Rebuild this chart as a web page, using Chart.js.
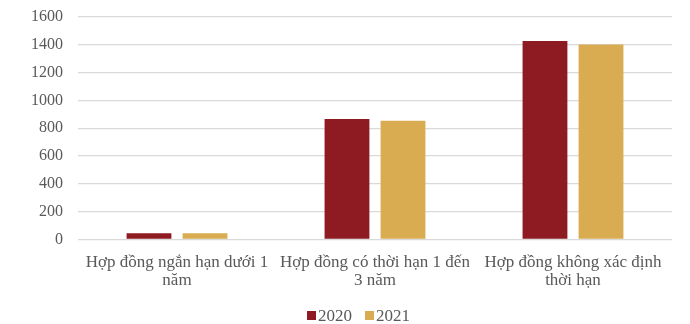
<!DOCTYPE html>
<html>
<head>
<meta charset="utf-8">
<script src="https://cdn.jsdelivr.net/npm/chart.js@4/dist/chart.umd.min.js"></script>
<style>
  html, body { margin: 0; padding: 0; background: #fff; }
  #wrap { position: relative; width: 690px; height: 324px; }
  #legend {
    position: absolute; top: 307px; left: 307px;
    display: flex; gap: 13px;
    font-family: 'Liberation Serif', 'Times New Roman', serif;
    font-size: 17px; line-height: 17px; color: #595959;
  }
  #legend .item { display: flex; align-items: center; gap: 2px; }
  #legend .box { width: 9px; height: 9px; }
</style>
</head>
<body>
<div id="wrap">
  <canvas id="contractChart"></canvas>
  <div id="legend"></div>
</div>
<script>
// Loại hợp đồng (nhãn trục x, tách dòng)
const categories = [
  ["Hợp đồng ngắn hạn dưới 1", "năm"],
  ["Hợp đồng có thời hạn 1 đến", "3 năm"],
  ["Hợp đồng không xác định", "thời hạn"]
];
const values2020 = [43, 865, 1428];
const values2021 = [43, 853, 1402];
const yTicks = [0, 200, 400, 600, 800, 1000, 1200, 1400, 1600];

const textGray = '#595959';
const serif = "'Liberation Serif', 'Times New Roman', serif";

const ctx = document.getElementById('contractChart');
const chart = new Chart(ctx, {
  type: 'bar',
  data: {
    labels: categories,
    datasets: [
      { label: '2020', data: values2020, backgroundColor: '#8E1B22' },
      { label: '2021', data: values2021, backgroundColor: '#D9AC52' }
    ]
  },
  options: {
    responsive: true,
    maintainAspectRatio: false,
    animation: false,
    layout: { padding: { top: 17, right: 18, left: 16, bottom: 29 } },
    datasets: {
      bar: { categoryPercentage: 0.566, barPercentage: 0.8 }
    },
    scales: {
      x: {
        grid: { display: false },
        border: { display: false },
        ticks: {
          color: textGray,
          font: { family: serif, size: 17, lineHeight: 1.05 },
          maxRotation: 0,
          padding: 6
        }
      },
      y: {
        min: 0,
        max: 1600,
        afterBuildTicks: axis => { axis.ticks = yTicks.map(v => ({ value: v })); },
        // the top label may overhang the plot; layout padding sets the gap
        afterFit: axis => { axis.paddingTop = 0; axis.paddingBottom = 0; },
        grid: { color: '#D9D9D9', lineWidth: 1.3, drawTicks: false },
        border: { display: false },
        ticks: {
          color: textGray,
          font: { family: serif, size: 16 },
          padding: 15,
          callback: v => String(v)
        }
      }
    },
    plugins: {
      legend: { display: false },
      tooltip: { enabled: false }
    }
  }
});

// legend as html, tighter box-to-text gap than the built-in one
const legendEl = document.getElementById('legend');
chart.data.datasets.forEach(ds => {
  const item = document.createElement('span');
  item.className = 'item';
  const box = document.createElement('span');
  box.className = 'box';
  box.style.background = ds.backgroundColor;
  item.appendChild(box);
  item.appendChild(document.createTextNode(ds.label));
  legendEl.appendChild(item);
});
</script>
</body>
</html>
